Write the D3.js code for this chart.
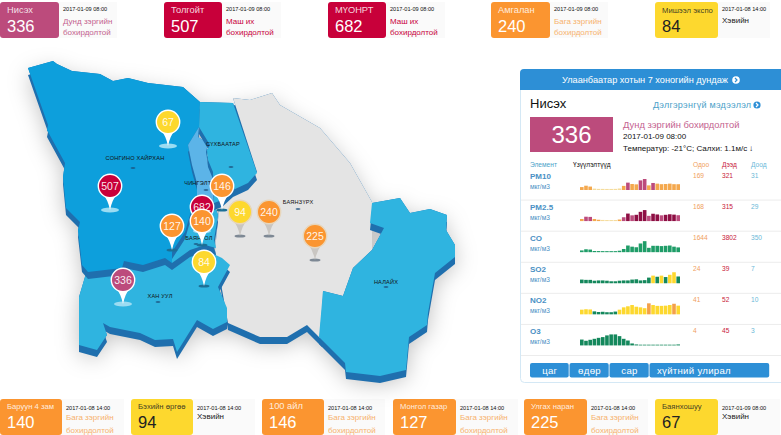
<!DOCTYPE html>
<html>
<head>
<meta charset="utf-8">
<script src="https://cdnjs.cloudflare.com/ajax/libs/d3/7.8.5/d3.min.js"></script>
<style>
  html, body { margin: 0; padding: 0; background: #fff; }
  svg { display: block; }
  text { font-family: "Liberation Sans", Arial, sans-serif; }
</style>
</head>
<body>
<svg id="chart" width="781" height="435"></svg>
<script>
// stations: top row, then bottom row
var topNames = ["Нисэх", "Толгойт", "МҮОНРТ", "Амгалан", "Мишээл экспо"];
var topValues = [336, 507, 682, 240, 84];
var topDates = ["2017-01-09 08:00", "2017-01-09 08:00", "2017-01-09 08:00", "2017-01-09 08:00", "2017-01-08 14:00"];
var bottomNames = ["Баруун 4 зам", "Бэхийн өргөө", "100 айл", "Монгол газар", "Улгах наран", "Баянхошуу"];
var bottomValues = [140, 94, 146, 127, 225, 67];
var bottomDates = ["2017-01-08 14:00", "2017-01-08 14:00", "2017-01-08 14:00", "2017-01-08 14:00", "2017-01-08 14:00", "2017-01-09 08:00"];

// district outlines, in map units
var bayanzurkh = [[233,98],[250,100],[272,93],[280,105],[320,128],[350,163],[372,202],[372,250],[353,268],[343,296],[323,291],[322,340],[307,325],[287,337],[260,337],[228,323],[215,250],[220,200],[257,172]];
var khanUul = [[87,270],[172,255],[205,250],[222,258],[230,265],[218,287],[227,308],[227,322],[213,329],[197,320],[177,352],[173,339],[155,340],[140,333],[110,327],[103,323],[107,335],[97,350],[79,345],[79,297]];
var nalaikh = [[372,203],[400,198],[410,213],[430,209],[447,215],[446,230],[455,245],[455,257],[435,273],[428,313],[427,325],[409,337],[406,370],[380,376],[346,372],[345,363],[319,337],[323,291],[343,296],[353,268],[372,250],[384,228],[370,223]];
var songino = [[28,68],[53,61],[57,64],[72,71],[100,74],[113,81],[128,78],[148,83],[183,87],[200,102],[199,127],[188,145],[192,165],[197,183],[197,200],[190,215],[185,232],[172,252],[172,263],[165,258],[143,265],[124,261],[122,268],[88,272],[82,265],[78,230],[80,222],[66,208],[63,177],[65,163],[47,130],[48,125]];
var bayangol = [[172,252],[180,243],[185,232],[190,215],[197,200],[214,203],[218,215],[214,240],[216,248],[205,245],[190,250],[172,263]];
var chingeltei = [[199,127],[198,137],[208,143],[206,152],[208,165],[213,172],[214,203],[197,200],[197,183],[192,165],[188,145]];
var sukhbaatar = [[200,102],[233,103],[257,173],[248,183],[233,190],[222,200],[214,203],[213,172],[208,160],[207,150],[210,145],[199,127]];

var districtLabels = ["СОНГИНО ХАЙРХАН", "СҮХБААТАР", "ЧИНГЭЛТЭЙ", "БАЯНГОЛ", "ХАН УУЛ", "БАЯНЗҮРХ", "НАЛАЙХ"];
var labelSpots = [[135,160],[223,146],[202,185],[199,240],[160,298],[298,204],[386,284]];
var labelDashes = [[133,168],[231,167],[206,190],[196,244],[158,302],[298,209],[386,287]];

// pins sit on the station location
var pinNames = ["Баянхошуу", "Толгойт", "100 айл", "Амгалан", "Бэхийн өргөө", "Улгах наран", "МҮОНРТ", "Монгол газар", "Баруун 4 зам", "Мишээл экспо", "Нисэх"];
var pinValues = [67, 507, 146, 240, 94, 225, 682, 127, 140, 84, 336];
var pinTips = [[168,146],[110,210],[222,210],[269,236],[240,236],[315,260],[202,231],[172,250],[202,245],[204,286],[123,304]];

// one week of readings per element
var elements = ["PM10", "PM2.5", "CO", "SO2", "NO2", "O3"];
var nowValues = [169, 168, 1644, 24, 41, 4];
var highValues = [321, 315, 3802, 39, 52, 45];
var lowValues = [31, 29, 350, 7, 10, 3];
var pm10 = [85,125,100,40,33,32,31,31,33,44,120,215,175,165,280,321,135,205,185,170,175,185,170,169];
var pm25 = [60,125,120,60,38,33,30,29,31,45,110,215,165,180,265,315,150,210,190,165,180,195,185,168];
var co = [600,1000,900,400,380,360,355,350,360,500,1100,2300,1900,1700,3000,3802,1500,2200,2200,2100,2200,2300,1900,1644];
var so2 = [13,12,12,9,10,10,9,7,7,9,10,10,13,14,10,11,20,27,23,27,22,30,39,24];
var no2 = [22,24,23,14,11,12,10,10,13,22,33,38,44,36,33,29,52,44,40,40,41,44,50,41];
var o3 = [24,19,23,27,31,34,41,45,45,38,27,20,8,4,3,3,3,3,3,3,3,3,3,4];
var readings = [pm10, pm25, co, so2, no2, o3];
var buttonLabels = ["цаг", "өдөр", "сар", "хүйтний улирал"];

var PINK = "#bc4b7c", RED = "#c8003a", ORANGE = "#fb9530", YELLOW = "#fdd82e";
function statusText(v) {
	if (v <= 100) return ["Хэвийн"];
	if (v <= 300) return ["Бага зэргийн", "бохирдолтой"];
	if (v <= 400) return ["Дунд зэргийн", "бохирдолтой"];
	return ["Маш их", "бохирдолтой"];
}
function statusColor(v) {
	if (v <= 100) return "#222";
	if (v <= 300) return "#f7b26e";
	if (v <= 400) return "#c4628f";
	return "#c8003a";
}
function cardColor(v) {
	if (v <= 100) return YELLOW;
	if (v <= 300) return ORANGE;
	if (v <= 400) return PINK;
	return RED;
}

var svg = d3.select("#chart");
var defs = svg.append("defs");
var shadow = defs.append("filter").attr("id", "mapShadow")
	.attr("x", "-20%").attr("y", "-20%").attr("width", "140%").attr("height", "140%");
shadow.append("feDropShadow").attr("dx", 0).attr("dy", 8).attr("stdDeviation", 11)
	.attr("flood-color", "#000").attr("flood-opacity", 0.25);

drawCards(topNames, topValues, topDates, [0,164,328,491,655], [59,58,58,59,63], [58,59,59,58,52], 2, 36, 13, 32, 11, [24,35]);
drawCards(bottomNames, bottomValues, bottomDates, [0,131,262,393,524,655], [62,62,62,63,63,63], [62,62,61,62,61,62], 399, 36, 409, 428, 410, [420,433]);
drawMap();
drawPanel();

function drawCards(names, values, dates, xs, colW, restW, y, h, nameY, valueY, dateY, statusY) {
	var g = svg.append("g").selectAll("g").data(names).join("g");
	g.append("rect").attr("x", function(d, i) { return xs[i] + colW[i]; }).attr("y", y)
		.attr("width", function(d, i) { return restW[i]; }).attr("height", h).attr("fill", "#fafafa");
	g.append("rect").attr("x", function(d, i) { return xs[i]; }).attr("y", y)
		.attr("width", function(d, i) { return colW[i]; }).attr("height", h).attr("rx", 3)
		.attr("fill", function(d, i) { return cardColor(values[i]); });
	g.append("text").attr("x", function(d, i) { return xs[i] + 7; }).attr("y", nameY)
		.attr("font-size", function(d) { return d.length > 8 ? 7.7 : 9.3; })
		.attr("fill", function(d, i) { return values[i] <= 100 ? "#222" : "#fff"; })
		.attr("fill-opacity", 0.85)
		.text(function(d) { return d; });
	g.append("text").attr("x", function(d, i) { return xs[i] + 7; }).attr("y", valueY)
		.attr("font-size", 16.5)
		.attr("fill", function(d, i) { return values[i] <= 100 ? "#222" : "#fff"; })
		.text(function(d, i) { return values[i]; });
	g.append("text").attr("x", function(d, i) { return xs[i] + colW[i] + 4; }).attr("y", dateY)
		.attr("font-size", 5.6).attr("fill", "#111")
		.text(function(d, i) { return dates[i]; });
	g.each(function(d, i) {
		d3.select(this).selectAll("text.status").data(statusText(values[i])).join("text")
			.attr("class", "status")
			.attr("x", xs[i] + colW[i] + 4)
			.attr("y", function(s, j) { return values[i] <= 100 ? statusY[0] - 1 : statusY[j]; })
			.attr("font-size", 8)
			.attr("fill", statusColor(values[i]))
			.text(function(s) { return s; });
	});
}

function drawMap() {
	var projection = d3.geoIdentity();
	var path = d3.geoPath(projection);
	var districts = [
		{ outline: bayanzurkh, fill: "#e4e4e4" },
		{ outline: khanUul, fill: "#2fb4e0" },
		{ outline: nalaikh, fill: "#2fb4e0" },
		{ outline: bayangol, fill: "#2fb4e0" },
		{ outline: songino, fill: "#0d9fdc" },
		{ outline: chingeltei, fill: "#5cb4e8" },
		{ outline: sukhbaatar, fill: "#2fb4e0" }
	].map(function(d) {
		return { fill: d.fill, geo: { type: "Polygon", coordinates: [d.outline.concat([d.outline[0]])] } };
	});

	var base = svg.append("g").attr("filter", "url(#mapShadow)");
	base.selectAll("path").data(districts).join("path")
		.attr("d", function(d) { return path(d.geo); }).attr("fill", "#1f6fae");

	var map = svg.append("g");
	districts.forEach(function(d) {
		map.append("path").attr("d", path(d.geo)).attr("transform", "translate(0,7)").attr("fill", "#1f6fae");
		map.append("path").attr("d", path(d.geo)).attr("fill", d.fill);
	});

	map.selectAll("text.district").data(districtLabels).join("text")
		.attr("class", "district")
		.attr("x", function(d, i) { return projection(labelSpots[i])[0]; })
		.attr("y", function(d, i) { return projection(labelSpots[i])[1]; })
		.attr("text-anchor", "middle").attr("font-size", 5.6).attr("letter-spacing", 0.2).attr("fill", "#111")
		.text(function(d) { return d; });
	map.selectAll("ellipse.dash").data(labelDashes).join("ellipse")
		.attr("class", "dash")
		.attr("cx", function(d) { return projection(d)[0]; })
		.attr("cy", function(d) { return projection(d)[1]; })
		.attr("rx", 2.5).attr("ry", 0.7).attr("fill", "#1c4f7c");

	var mutedPins = ["Амгалан", "Бэхийн өргөө", "Улгах наран"];
	var darkShadow = ["100 айл", "Монгол газар", "Баруун 4 зам", "Мишээл экспо", "Амгалан", "Бэхийн өргөө", "Улгах наран"];

	var pins = svg.append("g").selectAll("g").data(pinNames).join("g")
		.attr("transform", function(d, i) { var p = projection(pinTips[i]); return "translate(" + p[0] + "," + p[1] + ")"; });
	pins.append("ellipse").attr("rx", function(d) { return darkShadow.indexOf(d) >= 0 ? 5.5 : 9; })
		.attr("ry", function(d) { return darkShadow.indexOf(d) >= 0 ? 1.6 : 2.6; })
		.attr("fill", function(d) {
			if (mutedPins.indexOf(d) >= 0) return "#7d8894";
			return darkShadow.indexOf(d) >= 0 ? "#1b6f96" : "#9bdcf2";
		});
	pins.append("path").attr("d", "M-7,-16 Q-2,-10 0,0 Q2,-10 7,-16 Z")
		.attr("fill", function(d) { return mutedPins.indexOf(d) >= 0 ? "#c9c6c2" : "#fff"; });
	pins.append("circle").attr("cy", -24).attr("r", 11.7)
		.attr("fill", function(d, i) { return cardColor(pinValues[i]); })
		.attr("stroke", function(d) { return mutedPins.indexOf(d) >= 0 ? "#e8d6bb" : "#fff"; })
		.attr("stroke-width", 1.4);
	pins.append("text").attr("y", -20).attr("text-anchor", "middle").attr("font-size", 10.5)
		.attr("fill", "#fff").attr("fill-opacity", 0.92)
		.text(function(d, i) { return pinValues[i]; });
}

function circleArrow(g, cx, cy, r, fill, stroke) {
	g.append("circle").attr("cx", cx).attr("cy", cy).attr("r", r).attr("fill", fill);
	g.append("path").attr("d", "M" + (cx - 1) + "," + (cy - 2) + "l2,2l-2,2")
		.attr("fill", "none").attr("stroke", stroke).attr("stroke-width", 1.2);
}

function drawPanel() {
	var g = svg.append("g");
	g.append("rect").attr("x", 520.5).attr("y", 69.5).attr("width", 270).attr("height", 313).attr("rx", 4)
		.attr("fill", "#fff").attr("stroke", "#d4e8f5");
	g.append("path").attr("d", "M520,90V73a4,4 0 0 1 4,-4H781V90Z").attr("fill", "#2d8fd6");
	g.append("text").attr("x", 562).attr("y", 83).attr("font-size", 9.2).attr("fill", "#fff")
		.text("Улаанбаатар хотын 7 хоногийн дундаж");
	circleArrow(g, 736, 80, 3.8, "#fff", "#2d8fd6");

	g.append("text").attr("x", 530).attr("y", 108).attr("font-size", 13).attr("fill", "#111").text(topNames[0]);
	g.append("text").attr("x", 653).attr("y", 108).attr("font-size", 9).attr("letter-spacing", 0.25).attr("fill", "#4aa0c8").text("Дэлгэрэнгүй мэдээлэл");
	circleArrow(g, 757, 105, 3.6, "#2d8fd6", "#fff");

	g.append("rect").attr("x", 530).attr("y", 117).attr("width", 83).attr("height", 35).attr("fill", PINK);
	g.append("text").attr("x", 571.5).attr("y", 143).attr("text-anchor", "middle").attr("font-size", 24).attr("fill", "#fff").text(topValues[0]);
	g.append("text").attr("x", 623).attr("y", 128).attr("font-size", 9.4).attr("fill", "#c4628f").text("Дунд зэргийн бохирдолтой");
	g.append("text").attr("x", 623).attr("y", 139).attr("font-size", 8).attr("fill", "#111").text(topDates[0]);
	g.append("text").attr("x", 623).attr("y", 151).attr("font-size", 8).attr("fill", "#111").text("Температур: -21°C; Салхи: 1.1м/с");
	g.append("text").attr("x", 749).attr("y", 151).attr("font-size", 8).attr("font-weight", "bold").attr("fill", "#111").text("↓");

	var headers = [["Элемент", 530, "#4a9fc9"], ["Үзүүлэлтүүд", 573, "#111"], ["Одоо", 693, "#f0a060"], ["Дээд", 722, "#c8203a"], ["Доод", 751, "#6ab8d8"]];
	g.selectAll("text.head").data(headers).join("text").attr("class", "head")
		.attr("x", function(d) { return d[1]; }).attr("y", 167).attr("font-size", 6.6)
		.attr("fill", function(d) { return d[2]; }).text(function(d) { return d[0]; });

	var rowTop = d3.scaleBand().domain(elements).range([169, 355.5]);
	var barX = d3.scaleBand().domain(d3.range(24)).range([580, 680]).paddingInner(0.14);
	var barColors = {
		"PM10": d3.scaleThreshold().domain([50, 200]).range(["#f5dc9c", "#f4a84e", "#bc4b7c"]),
		"PM2.5": d3.scaleThreshold().domain([35, 75, 175]).range(["#f5dc9c", "#f4a84e", "#bc4b7c", "#8e0f44"]),
		"CO": d3.scaleThreshold().domain([1e9]).range(["#1f9d68"]),
		"SO2": d3.scaleThreshold().domain([25]).range(["#14885c", "#fdd82e"]),
		"NO2": d3.scaleThreshold().domain([20, 45]).range(["#14885c", "#fdd82e", "#f4a04a"]),
		"O3": d3.scaleThreshold().domain([1e9]).range(["#14885c"])
	};

	var rows = g.selectAll("g.row").data(elements).join("g").attr("class", "row")
		.attr("transform", function(d) { return "translate(0," + rowTop(d) + ")"; });
	rows.append("line").attr("x1", 521).attr("x2", 781).attr("y1", rowTop.bandwidth()).attr("y2", rowTop.bandwidth()).attr("stroke", "#ececec");
	rows.append("text").attr("x", 530).attr("y", 10).attr("font-size", 8).attr("font-weight", "bold").attr("fill", "#4a90c4").text(function(d) { return d; });
	rows.append("text").attr("x", 530).attr("y", 20).attr("font-size", 6.6).attr("fill", "#4a90c4").text("мкг/м3");
	rows.append("text").attr("x", 693).attr("y", 9).attr("font-size", 6.6).attr("fill", "#f0a060").text(function(d, i) { return nowValues[i]; });
	rows.append("text").attr("x", 722).attr("y", 9).attr("font-size", 6.6).attr("fill", "#c8203a").text(function(d, i) { return highValues[i]; });
	rows.append("text").attr("x", 751).attr("y", 9).attr("font-size", 6.6).attr("fill", "#6ab8d8").text(function(d, i) { return lowValues[i]; });

	rows.each(function(name, i) {
		var h = d3.scaleLinear().domain([0, highValues[i]]).range([21, 10]);
		d3.select(this).selectAll("rect").data(readings[i]).join("rect")
			.attr("x", function(d, j) { return barX(j); })
			.attr("width", barX.bandwidth())
			.attr("y", function(d) { return h(d); })
			.attr("height", function(d) { return h(0) - h(d); })
			.attr("fill", function(d) { return barColors[name](d); });
	});

	// period buttons
	var btnEdges = [530, 569.5, 609.5, 649.5, 770];
	var btn = g.selectAll("g.btn").data(buttonLabels).join("g").attr("class", "btn");
	btn.append("rect").attr("x", function(d, i) { return btnEdges[i]; }).attr("y", 363)
		.attr("width", function(d, i) { return btnEdges[i + 1] - btnEdges[i] - 0.8; }).attr("height", 14.5).attr("rx", 2).attr("fill", "#2d8fd6");
	btn.append("text").attr("x", function(d, i) { return i == 3 ? 694 : (btnEdges[i] + btnEdges[i + 1]) / 2; }).attr("y", 373.5)
		.attr("text-anchor", "middle").attr("font-size", 9.6).attr("letter-spacing", 0.3).attr("fill", "#fff").text(function(d) { return d; });
}
</script>
</body>
</html>
